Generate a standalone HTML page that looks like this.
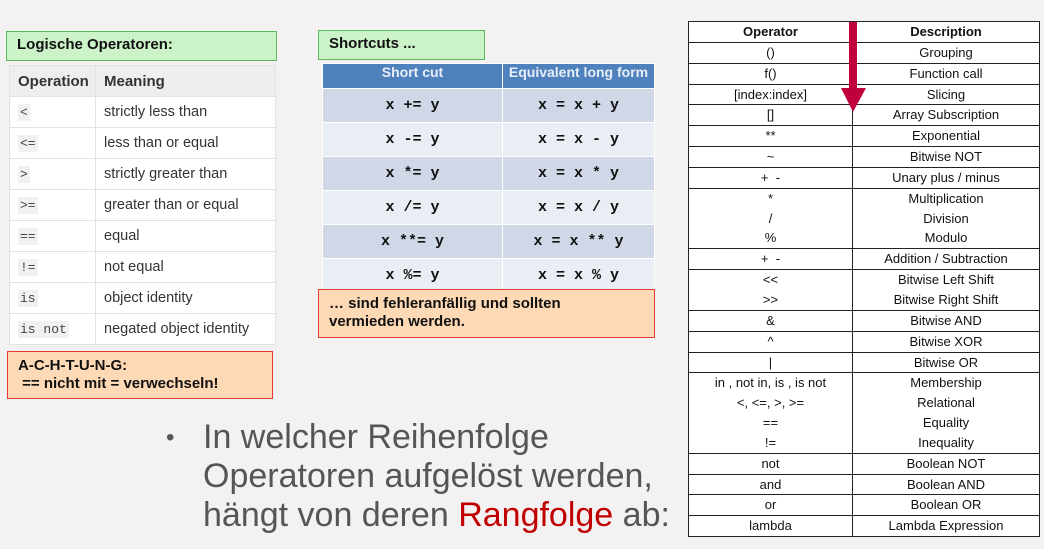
<!DOCTYPE html>
<html><head><meta charset="utf-8"><style>
*{margin:0;padding:0;box-sizing:border-box}
body{width:1044px;height:549px;background:#f3f1f1;position:relative;overflow:hidden;font-family:"Liberation Sans",sans-serif}
.abs{position:absolute}
.green{background:#ccf2c8;border:1.5px solid #5cb85c;font-weight:bold;font-size:15px;padding:4px 10px;color:#111}
.orange{background:#fdd9b5;border:1.5px solid #e53935;font-weight:bold;font-size:15px;color:#111;line-height:18px}
table{border-collapse:collapse;position:absolute}
.lt{left:9px;top:65px;width:267px;background:#fff}
.lt td{border:1px solid #e2e2e2;height:31px;font-size:14.5px;color:#333;padding-left:8px}
.lt tr:first-child td{background:#eee;font-weight:bold;color:#333;font-size:15px}
.lt code{font-family:"Liberation Mono",monospace;background:#f1f1f1;font-size:13px;padding:1px 2px;color:#444}
.st{left:322px;top:63px;width:333px}
.st td{border:1px solid #fff;text-align:center;font-family:"Liberation Mono",monospace;font-weight:bold;font-size:15px;height:34px;color:#111}
.st tr.h td{background:#4f81bd;color:#e8eef8;font-family:"Liberation Sans",sans-serif;font-size:14px;height:25px;vertical-align:top;white-space:nowrap;overflow:hidden}
.st tr.a td{background:#d0d8e8}.st tr.b td{background:#e9edf4}
.rt{left:688px;top:21px;width:352px;background:#fff}
.rt td{border:1px solid #222;text-align:center;font-size:13px;color:#111;line-height:19.85px;padding:0}
.rt td:first-child{width:164px}
</style></head><body>
<div class="abs green" style="left:6px;top:31px;width:271px;height:30px">Logische Operatoren:</div>
<table class="lt">
<tr><td style="width:86px">Operation</td><td>Meaning</td></tr>
<tr><td><code>&lt;</code></td><td>strictly less than</td></tr>
<tr><td><code>&lt;=</code></td><td>less than or equal</td></tr>
<tr><td><code>&gt;</code></td><td>strictly greater than</td></tr>
<tr><td><code>&gt;=</code></td><td>greater than or equal</td></tr>
<tr><td><code>==</code></td><td>equal</td></tr>
<tr><td><code>!=</code></td><td>not equal</td></tr>
<tr><td><code>is</code></td><td>object identity</td></tr>
<tr><td><code>is not</code></td><td>negated object identity</td></tr>
</table>
<div class="abs orange" style="left:7px;top:351px;width:266px;height:48px;padding:5px 10px">A-C-H-T-U-N-G:<br>&nbsp;== nicht mit = verwechseln!</div>

<div class="abs green" style="left:318px;top:30px;width:167px;height:30px">Shortcuts ...</div>
<table class="st">
<tr class="h"><td style="width:180px">Short cut</td><td>Equivalent long form</td></tr>
<tr class="a"><td>x += y</td><td>x = x + y</td></tr>
<tr class="b"><td>x -= y</td><td>x = x - y</td></tr>
<tr class="a"><td>x *= y</td><td>x = x * y</td></tr>
<tr class="b"><td>x /= y</td><td>x = x / y</td></tr>
<tr class="a"><td>x **= y</td><td>x = x ** y</td></tr>
<tr class="b"><td>x %= y</td><td>x = x % y</td></tr>
</table>
<div class="abs orange" style="left:318px;top:289px;width:337px;height:49px;padding:5px 10px">… sind fehleranfällig und sollten<br>vermieden werden.</div>

<table class="rt">
<tr><td style="font-weight:bold">Operator</td><td style="font-weight:bold">Description</td></tr>
<tr><td>()</td><td>Grouping</td></tr>
<tr><td>f()</td><td>Function call</td></tr>
<tr><td>[index:index]</td><td>Slicing</td></tr>
<tr><td>[]</td><td>Array Subscription</td></tr>
<tr><td>**</td><td>Exponential</td></tr>
<tr><td>~</td><td>Bitwise NOT</td></tr>
<tr><td>+ &nbsp;-</td><td>Unary plus / minus</td></tr>
<tr><td>*<br>/<br>%</td><td>Multiplication<br>Division<br>Modulo</td></tr>
<tr><td>+ &nbsp;-</td><td>Addition / Subtraction</td></tr>
<tr><td>&lt;&lt;<br>&gt;&gt;</td><td>Bitwise Left Shift<br>Bitwise Right Shift</td></tr>
<tr><td>&amp;</td><td>Bitwise AND</td></tr>
<tr><td>^</td><td>Bitwise XOR</td></tr>
<tr><td>|</td><td>Bitwise OR</td></tr>
<tr><td>in , not in, is , is not<br>&lt;, &lt;=, &gt;, &gt;=<br>==<br>!=</td><td>Membership<br>Relational<br>Equality<br>Inequality</td></tr>
<tr><td>not</td><td>Boolean NOT</td></tr>
<tr><td>and</td><td>Boolean AND</td></tr>
<tr><td>or</td><td>Boolean OR</td></tr>
<tr><td>lambda</td><td>Lambda Expression</td></tr>
</table>
<svg class="abs" style="left:838px;top:20px" width="32" height="95"><rect x="11" y="2" width="8" height="68" fill="#c0003c"/><polygon points="3,68 28,68 15,92" fill="#c0003c"/></svg>

<div class="abs" style="left:166px;top:418px;font-size:34px;line-height:39px;color:#555;white-space:nowrap">
<div><span style="display:inline-block;width:37px;font-size:24px;vertical-align:top">•</span>In welcher Reihenfolge</div>
<div style="padding-left:37px">Operatoren aufgelöst werden,</div>
<div style="padding-left:37px">hängt von deren <span style="color:#c00000">Rangfolge</span> ab:</div>
</div>
</body></html>
